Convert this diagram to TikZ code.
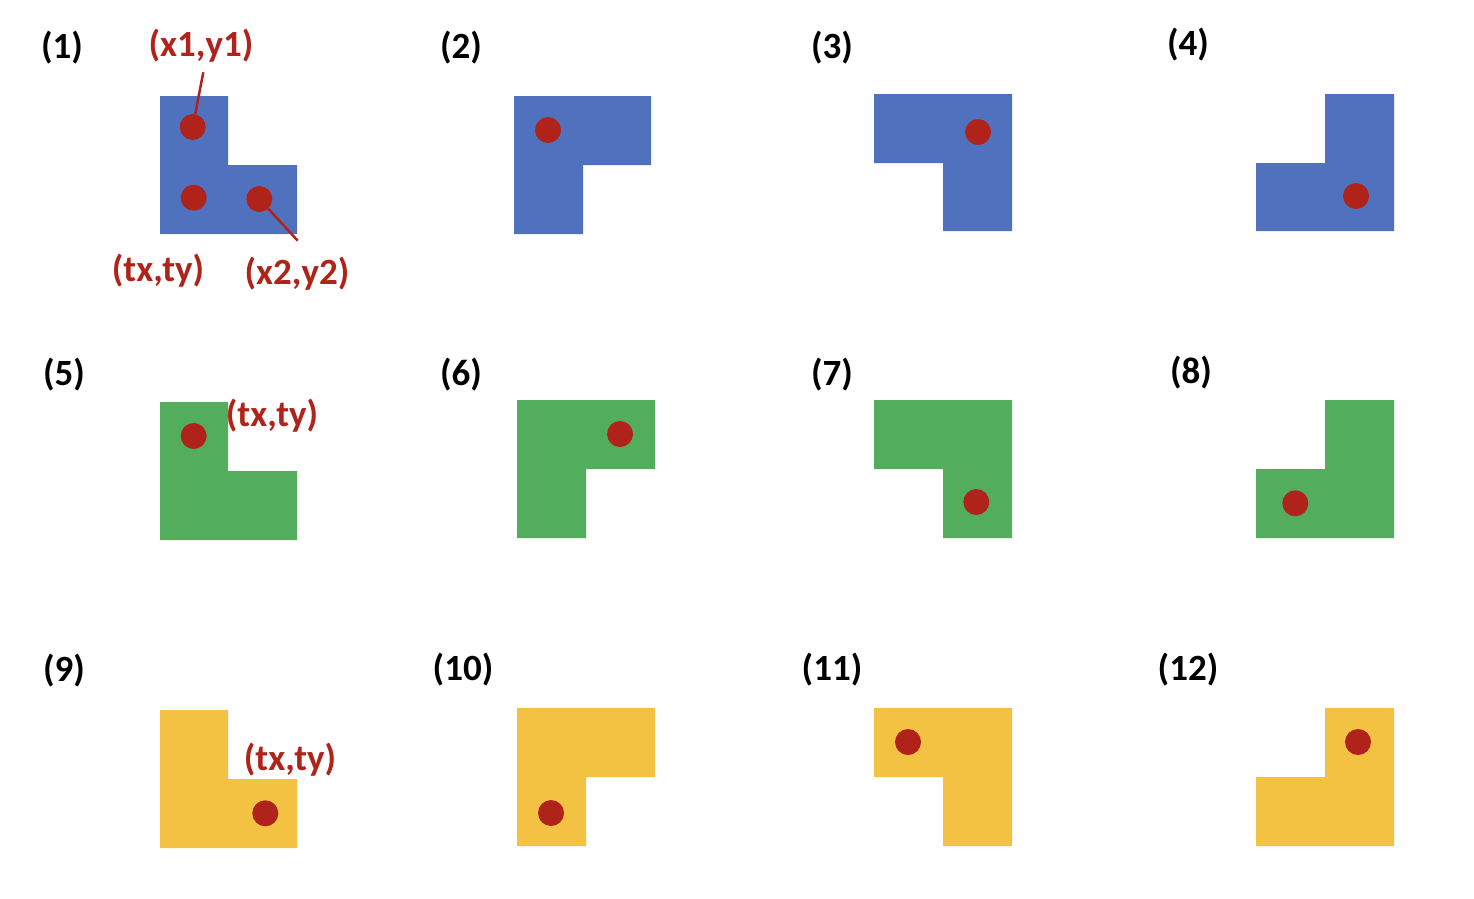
\documentclass[tikz,border=0pt]{standalone}
\usepackage{fontspec}
\setmainfont{Carlito}
\definecolor{cblue}{HTML}{5072BE}
\definecolor{cgreen}{HTML}{52AE5C}
\definecolor{cyellow}{HTML}{F4C242}
\definecolor{cred}{HTML}{B0231A}
\tikzset{
  pnl/.style={font=\fontsize{37}{40}\selectfont\bfseries, text=black, inner sep=0pt, yshift=-2pt},
  rlab/.style={font=\fontsize{37}{40}\selectfont\bfseries, text=cred, inner sep=0pt, yshift=-2pt},
  dot/.style={circle, fill=cred, minimum size=26pt, inner sep=0pt},
  leader/.style={draw=cred, line width=2.5pt},
}
\begin{document}
\begin{tikzpicture}[x=1pt,y=-1pt]
\useasboundingbox (0,0) rectangle (1474,898);
% row 1 (blue)
\fill[cblue] (160,96) -- (228,96) -- (228,165) -- (297,165) -- (297,234) -- (160,234) -- cycle;
\fill[cblue] (514,96) -- (651,96) -- (651,165) -- (583,165) -- (583,234) -- (514,234) -- cycle;
\fill[cblue] (874,94) -- (1012,94) -- (1012,231) -- (943,231) -- (943,163) -- (874,163) -- cycle;
\fill[cblue] (1325,94) -- (1394,94) -- (1394,231) -- (1256,231) -- (1256,163) -- (1325,163) -- cycle;
% row 2 (green)
\fill[cgreen] (160,402) -- (228,402) -- (228,471) -- (297,471) -- (297,540) -- (160,540) -- cycle;
\fill[cgreen] (517,400) -- (655,400) -- (655,469) -- (586,469) -- (586,538) -- (517,538) -- cycle;
\fill[cgreen] (874,400) -- (1012,400) -- (1012,538) -- (943,538) -- (943,469) -- (874,469) -- cycle;
\fill[cgreen] (1325,400) -- (1394,400) -- (1394,538) -- (1256,538) -- (1256,469) -- (1325,469) -- cycle;
% row 3 (yellow)
\fill[cyellow] (160,710) -- (228,710) -- (228,779) -- (297,779) -- (297,848) -- (160,848) -- cycle;
\fill[cyellow] (517,708) -- (655,708) -- (655,777) -- (586,777) -- (586,846) -- (517,846) -- cycle;
\fill[cyellow] (874,708) -- (1012,708) -- (1012,846) -- (943,846) -- (943,777) -- (874,777) -- cycle;
\fill[cyellow] (1325,708) -- (1394,708) -- (1394,846) -- (1256,846) -- (1256,777) -- (1325,777) -- cycle;
% panel labels
\node[pnl] (p1) at (62,46) {(1)};
\node[pnl] (p2) at (461,46) {(2)};
\node[pnl] (p3) at (832,46) {(3)};
\node[pnl] (p4) at (1188,43) {(4)};
\node[pnl] (p5) at (64,373) {(5)};
\node[pnl] (p6) at (461,373) {(6)};
\node[pnl] (p7) at (832,373) {(7)};
\node[pnl] (p8) at (1191,371) {(8)};
\node[pnl] (p9) at (64,669) {(9)};
\node[pnl] (p10) at (463,668) {(10)};
\node[pnl] (p11) at (832,668) {(11)};
\node[pnl] (p12) at (1188,668) {(12)};
% dots
\node[dot] (d1a) at (192.7,127) {};
\node[dot] (d1b) at (193.7,197.7) {};
\node[dot] (d1c) at (259.3,199) {};
\node[dot] (d2) at (548,130) {};
\node[dot] (d3) at (978,132) {};
\node[dot] (d4) at (1356,196) {};
\node[dot] (d5) at (193.7,436) {};
\node[dot] (d6) at (620,434) {};
\node[dot] (d7) at (976.3,502) {};
\node[dot] (d8) at (1295.3,503.3) {};
\node[dot] (d9) at (265.3,813.3) {};
\node[dot] (d10) at (551,813) {};
\node[dot] (d11) at (908,742) {};
\node[dot] (d12) at (1358,742) {};
% red labels
\node[rlab] (lx1) at (201,44) {(x1,y1)};
\node[rlab] (ltx1) at (158,269) {(tx,ty)};
\node[rlab] (lx2) at (297,272) {(x2,y2)};
\node[rlab] (ltx5) at (272,414) {(tx,ty)};
\node[rlab] (ltx9) at (290,758) {(tx,ty)};
% leaders
\coordinate (c1) at (203.3,72.3);
\coordinate (c2) at (297.7,240.7);
\draw[leader] (c1) -- (d1a);
\draw[leader] (d1c) -- (c2);
\end{tikzpicture}
\end{document}
